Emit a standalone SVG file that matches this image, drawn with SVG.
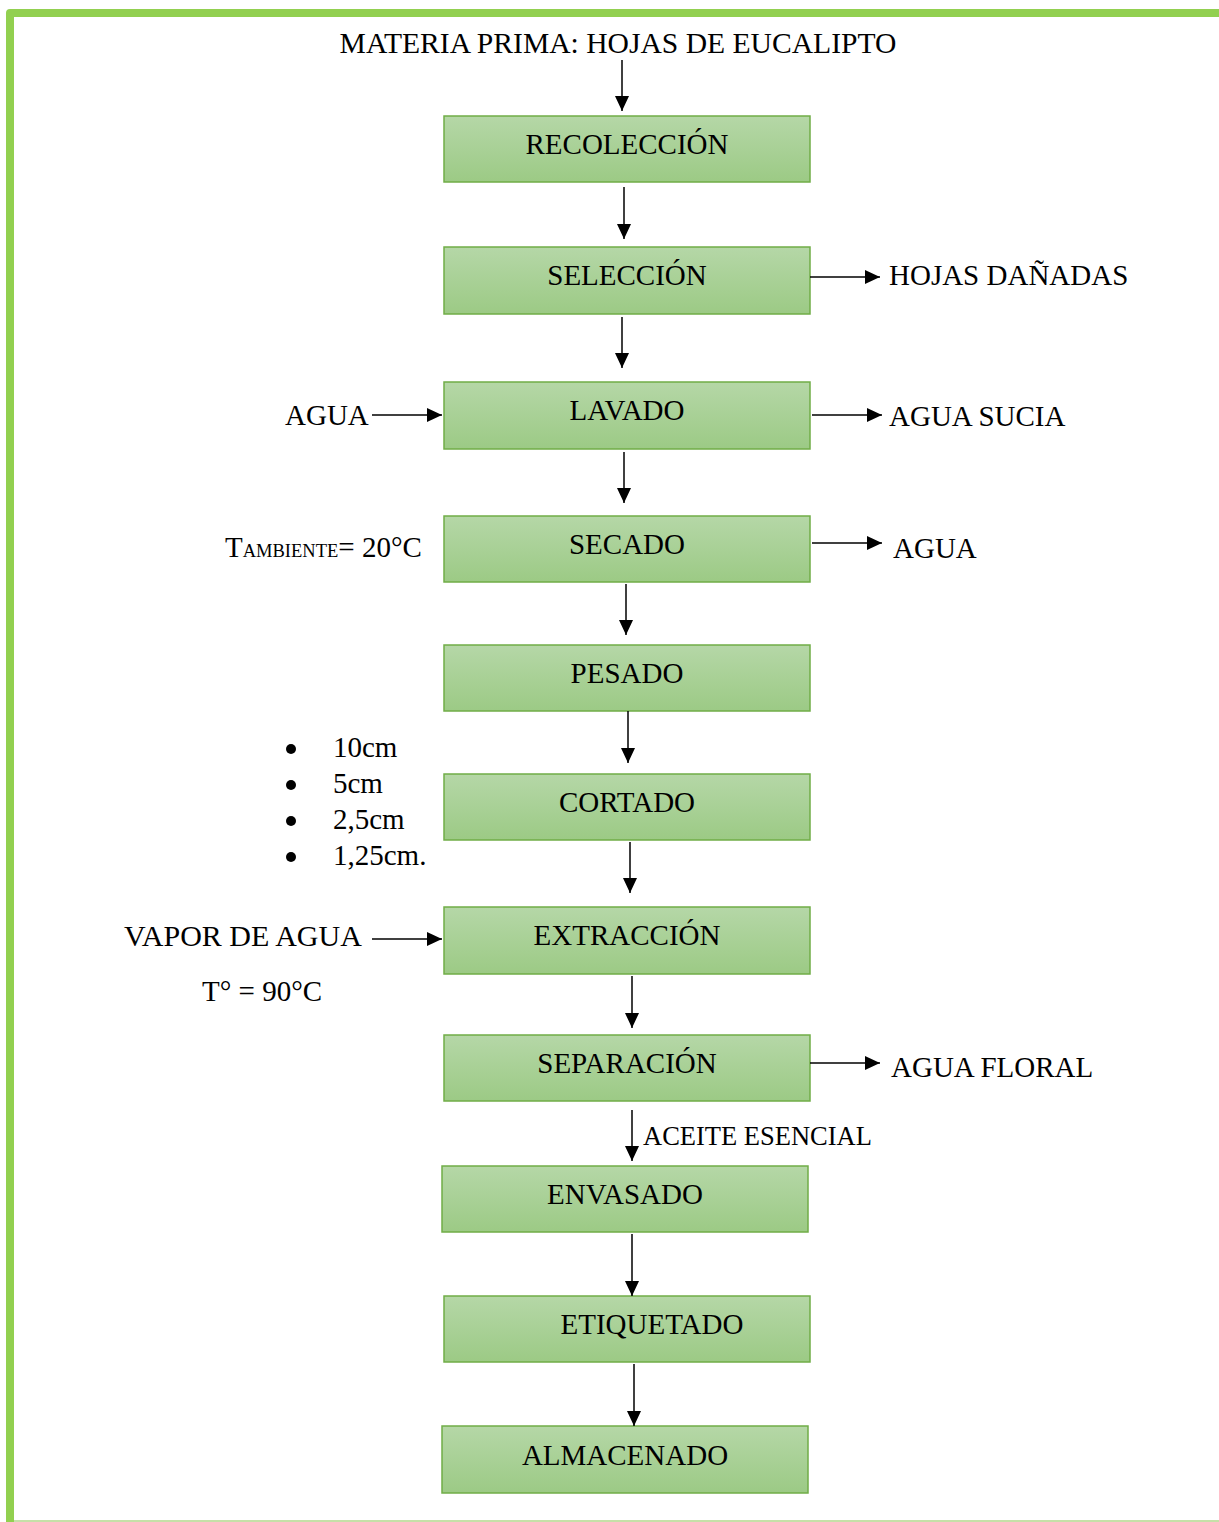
<svg xmlns="http://www.w3.org/2000/svg" width="1219" height="1522" viewBox="0 0 1219 1522">
<style>
text{font-family:"Liberation Serif","Times New Roman",serif;fill:#000;font-size:29px}
.box{fill:url(#g);stroke:#70ad47;stroke-width:1.5}
.bt{text-anchor:middle}
.c line{stroke:#000;stroke-width:1.5;marker-end:url(#ah)}
</style>
<defs>
<linearGradient id="g" x1="0" y1="0" x2="0" y2="1">
<stop offset="0" stop-color="#b5d7a7"/>
<stop offset="1" stop-color="#9cca85"/>
</linearGradient>
<marker id="ah" viewBox="0 0 15 14" refX="15" refY="7" markerWidth="15" markerHeight="14" markerUnits="userSpaceOnUse" orient="auto">
<path d="M0,0 L15,7 L0,14 Z" fill="#000"/>
</marker>
</defs>
<rect width="1219" height="1522" fill="#fff"/>
<path d="M10 1522 V13 H1219" fill="none" stroke="#92d050" stroke-width="8" stroke-linejoin="round"/>
<line x1="14" y1="1521" x2="1219" y2="1521" stroke="#c6e0a8" stroke-width="2"/>

<text x="618" y="53" text-anchor="middle" style="font-size:29.6px">MATERIA PRIMA: HOJAS DE EUCALIPTO</text>

<g id="n1"><rect class="box" x="444" y="116" width="366" height="66"/><text class="bt" x="627" y="154">RECOLECCIÓN</text></g>
<g id="n2"><rect class="box" x="444" y="247" width="366" height="67"/><text class="bt" x="627" y="285">SELECCIÓN</text></g>
<g id="n3"><rect class="box" x="444" y="382" width="366" height="67"/><text class="bt" x="627" y="420">LAVADO</text></g>
<g id="n4"><rect class="box" x="444" y="516" width="366" height="66"/><text class="bt" x="627" y="554">SECADO</text></g>
<g id="n5"><rect class="box" x="444" y="645" width="366" height="66"/><text class="bt" x="627" y="683">PESADO</text></g>
<g id="n6"><rect class="box" x="444" y="774" width="366" height="66"/><text class="bt" x="627" y="812">CORTADO</text></g>
<g id="n7"><rect class="box" x="444" y="907" width="366" height="67"/><text class="bt" x="627" y="945">EXTRACCIÓN</text></g>
<g id="n8"><rect class="box" x="444" y="1035" width="366" height="66"/><text class="bt" x="627" y="1073">SEPARACIÓN</text></g>
<g id="n9"><rect class="box" x="442" y="1166" width="366" height="66"/><text class="bt" x="625" y="1204">ENVASADO</text></g>
<g id="n10"><rect class="box" x="444" y="1296" width="366" height="66"/><text class="bt" x="652" y="1334">ETIQUETADO</text></g>
<g id="n11"><rect class="box" x="442" y="1426" width="366" height="67"/><text class="bt" x="625" y="1465">ALMACENADO</text></g>

<g id="labels">
<text x="889" y="285">HOJAS DAÑADAS</text>
<text x="285" y="425">AGUA</text>
<text x="889" y="426">AGUA SUCIA</text>
<text x="225" y="557">T<tspan font-size="18.5">AMBIENTE</tspan>= 20°C</text>
<text x="893" y="558">AGUA</text>
<g id="bullets">
<circle cx="291" cy="749" r="5"/><circle cx="291" cy="785" r="5"/><circle cx="291" cy="821" r="5"/><circle cx="291" cy="857" r="5"/>
<text x="333" y="757">10cm</text>
<text x="333" y="793">5cm</text>
<text x="333" y="829">2,5cm</text>
<text x="333" y="865">1,25cm.</text>
</g>
<text x="124" y="946" style="font-size:30px">VAPOR DE AGUA</text>
<text x="202" y="1001">T° = 90°C</text>
<text x="891" y="1077">AGUA FLORAL</text>
<text x="643" y="1145" style="font-size:26.5px">ACEITE ESENCIAL</text>
</g>

<g id="connectors" class="c">
<line x1="622" y1="60" x2="622" y2="111"/>
<line x1="624" y1="187" x2="624" y2="239"/>
<line x1="622" y1="317" x2="622" y2="368"/>
<line x1="624" y1="452" x2="624" y2="503"/>
<line x1="626" y1="584" x2="626" y2="635"/>
<line x1="628" y1="711" x2="628" y2="763"/>
<line x1="630" y1="842" x2="630" y2="893"/>
<line x1="632" y1="976" x2="632" y2="1028"/>
<line x1="632" y1="1110" x2="632" y2="1161"/>
<line x1="632" y1="1234" x2="632" y2="1296"/>
<line x1="634" y1="1364" x2="634" y2="1426"/>
<line x1="810" y1="277" x2="880" y2="277"/>
<line x1="372" y1="415" x2="442" y2="415"/>
<line x1="812" y1="415" x2="882" y2="415"/>
<line x1="812" y1="543" x2="882" y2="543"/>
<line x1="372" y1="939" x2="442" y2="939"/>
<line x1="810" y1="1063" x2="880" y2="1063"/>
</g>
</svg>
